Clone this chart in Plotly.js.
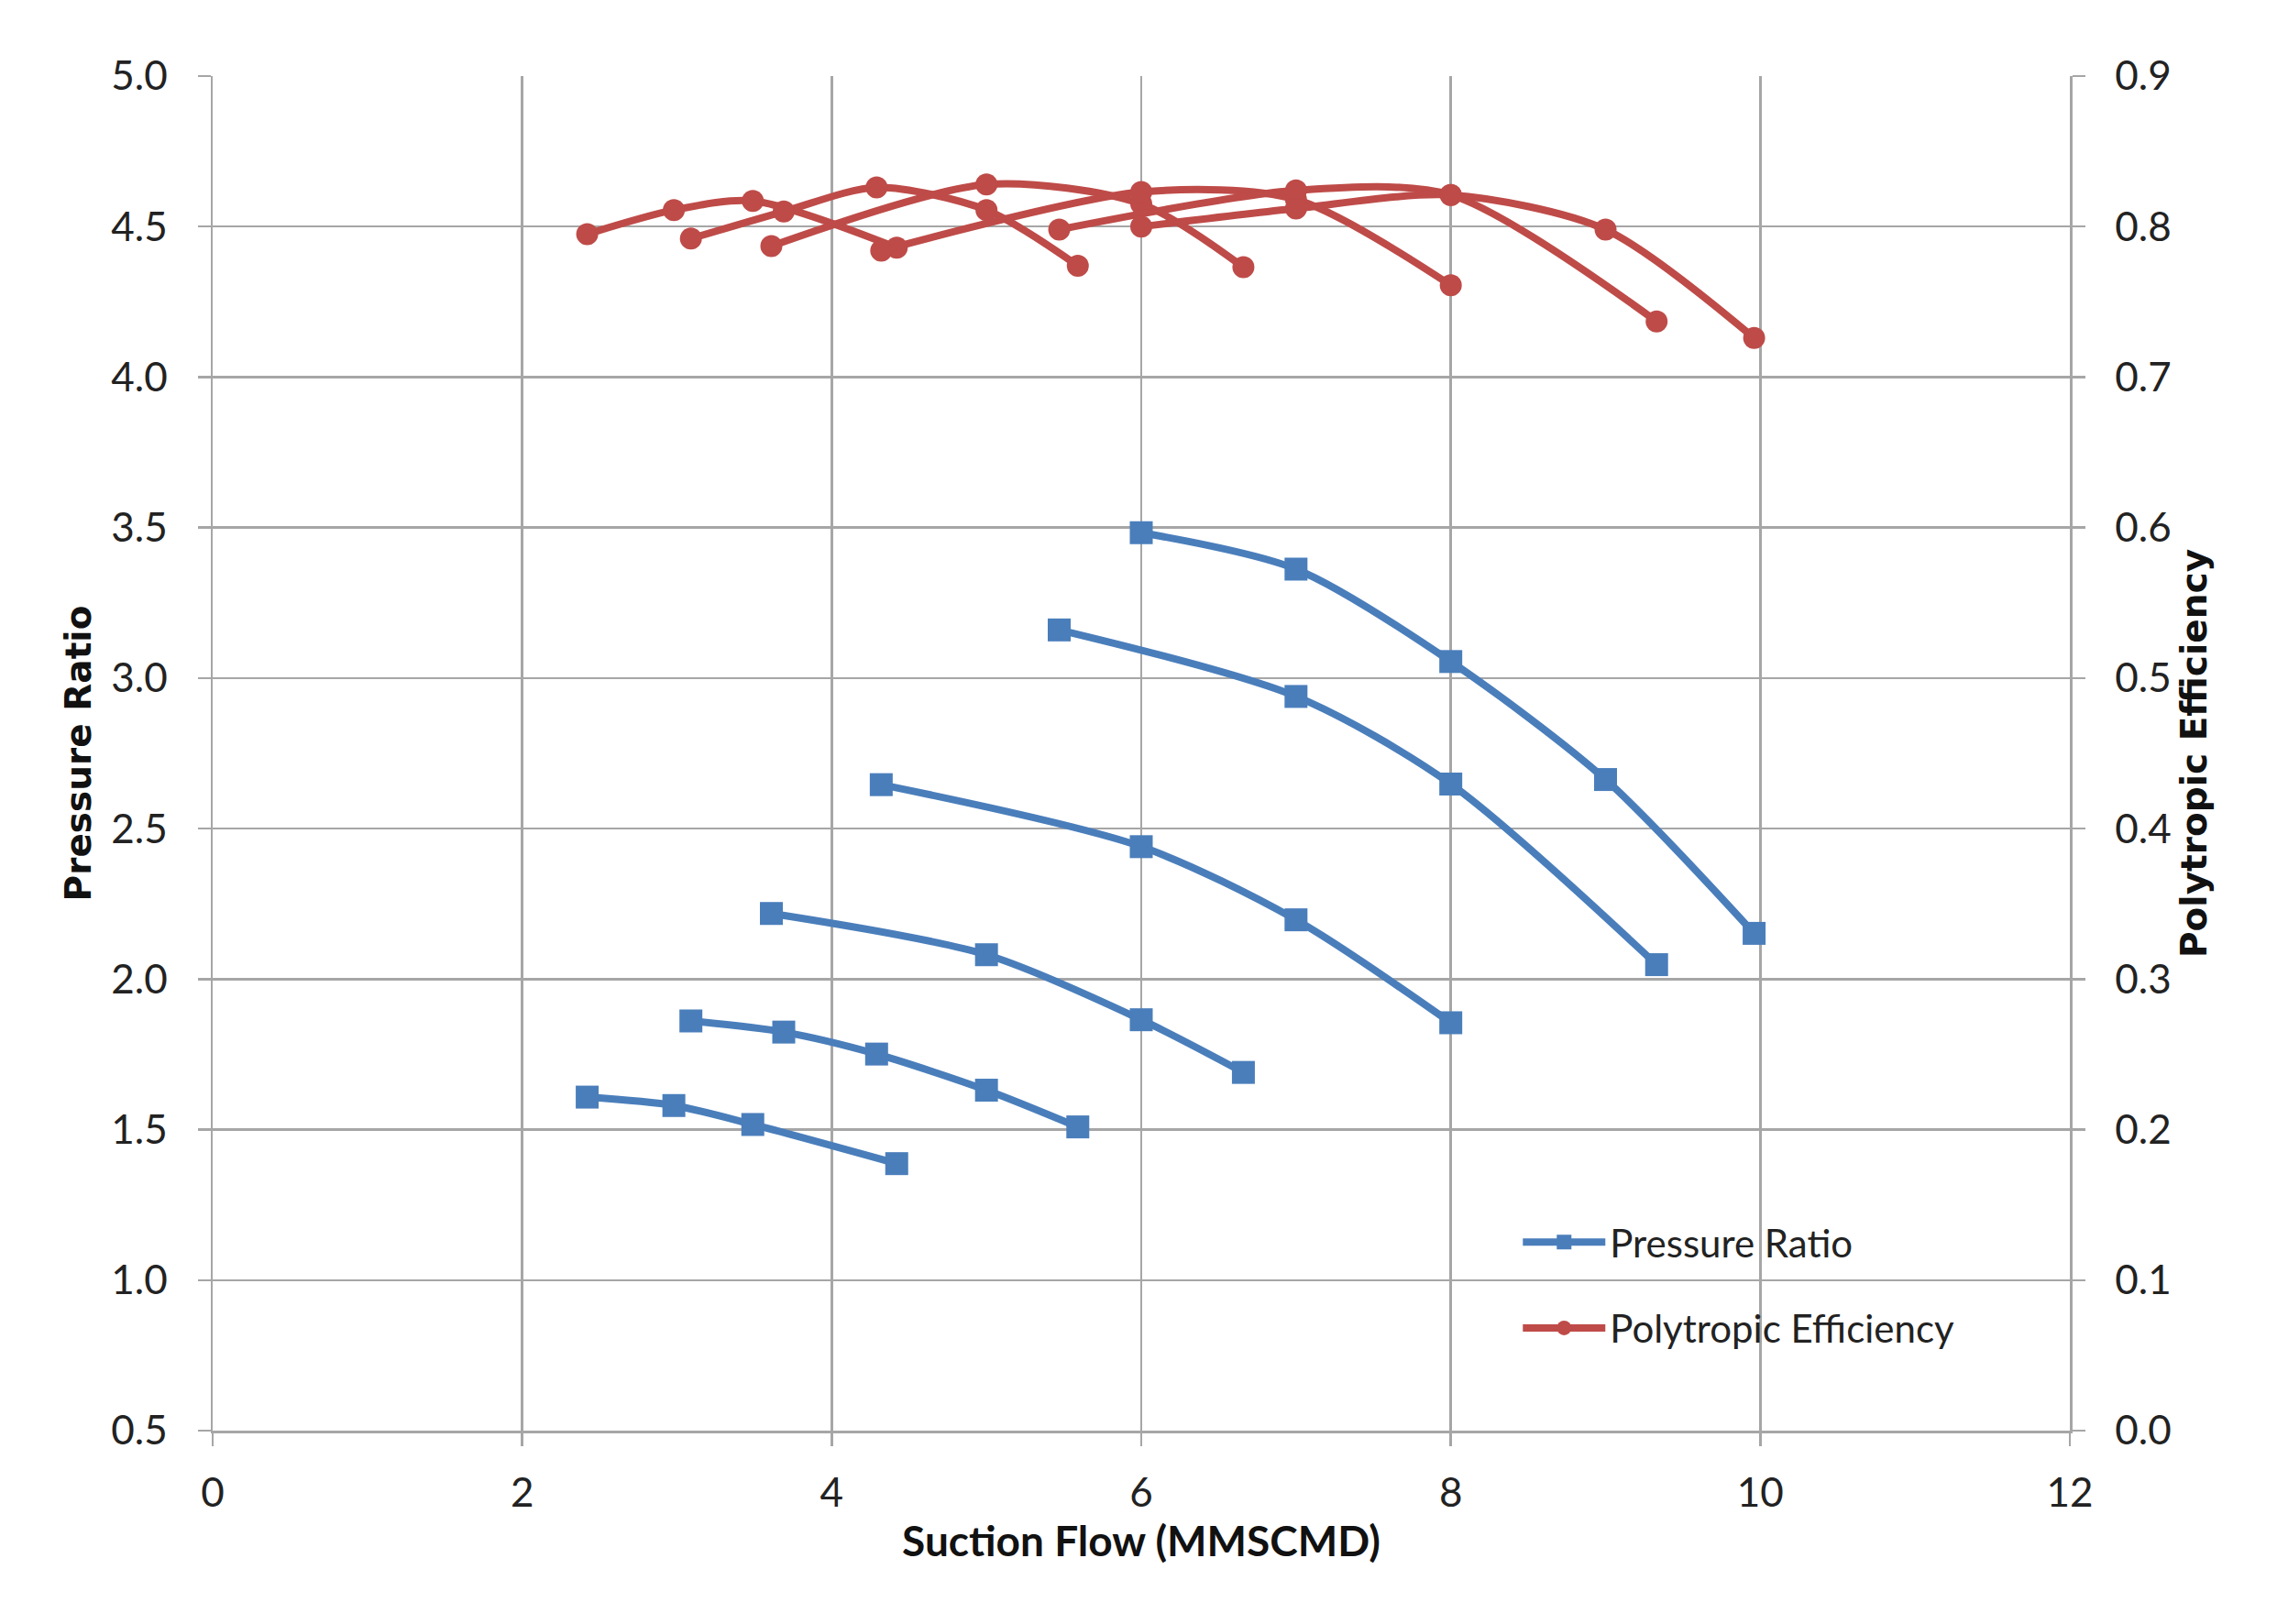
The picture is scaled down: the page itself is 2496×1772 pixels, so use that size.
<!DOCTYPE html>
<html>
<head>
<meta charset="utf-8">
<script src="https://cdn.plot.ly/plotly-3.0.1.min.js"></script>
<style>
  body { margin: 0; padding: 0; background: #fff; }
  #chart { width: 2496px; height: 1772px; }
</style>
</head>
<body>
<div id="chart"></div>
<script>
// suction flow (MMSCMD), pressure ratio and polytropic efficiency per speed line
const flow1 = [2.42, 2.98, 3.49, 4.42];
const ratio1 = [1.608, 1.580, 1.517, 1.387];
const eff1 = [0.795, 0.811, 0.817, 0.786];

const flow2 = [3.09, 3.69, 4.29, 5.0, 5.59];
const ratio2 = [1.861, 1.824, 1.751, 1.631, 1.509];
const eff2 = [0.792, 0.810, 0.826, 0.811, 0.774];

const flow3 = [3.61, 5.0, 6.0, 6.66];
const ratio3 = [2.218, 2.081, 1.865, 1.690];
const eff3 = [0.787, 0.828, 0.815, 0.773];

const flow4 = [4.32, 6.0, 7.0, 8.0];
const ratio4 = [2.646, 2.440, 2.197, 1.855];
const eff4 = [0.784, 0.823, 0.818, 0.761];

const flow5 = [5.47, 7.0, 8.0, 9.33];
const ratio5 = [3.160, 2.939, 2.648, 2.048];
const eff5 = [0.798, 0.824, 0.821, 0.737];

const flow6 = [6.0, 7.0, 8.0, 9.0, 9.96];
const ratio6 = [3.483, 3.362, 3.055, 2.663, 2.152];
const eff6 = [0.800, 0.812, 0.821, 0.798, 0.726];

const flows = [flow1, flow2, flow3, flow4, flow5, flow6];
const ratios = [ratio1, ratio2, ratio3, ratio4, ratio5, ratio6];
const effs = [eff1, eff2, eff3, eff4, eff5, eff6];

const blue = '#4A7EBB';
const red = '#BE4B48';
const gridGray = '#A6A6A6';

function makeRatioTrace(i) {
    return {
        x: flows[i],
        y: ratios[i],
        name: 'Pressure Ratio',
        legendgroup: 'ratio',
        showlegend: i === 0,
        type: 'scatter',
        mode: 'lines+markers',
        line: {color: blue, width: 8, shape: 'spline', smoothing: 0.8},
        marker: {symbol: 'square', size: 25, color: blue},
        yaxis: 'y'
    };
}

function makeEffTrace(i) {
    return {
        x: flows[i],
        y: effs[i],
        name: 'Polytropic Efficiency',
        legendgroup: 'eff',
        showlegend: i === 0,
        type: 'scatter',
        mode: 'lines+markers',
        line: {color: red, width: 8, shape: 'spline', smoothing: 0.8},
        marker: {symbol: 'circle', size: 24, color: red},
        yaxis: 'y2'
    };
}

var data = [];
for (var i = 0; i < flows.length; i++) {
    data.push(makeRatioTrace(i));
}
for (var i = 0; i < flows.length; i++) {
    data.push(makeEffTrace(i));
}

const tickFont = {family: 'Lato, sans-serif', size: 44, color: '#222'};

var layout = {
    width: 2496,
    height: 1772,
    margin: {l: 232, r: 238, t: 83, b: 211},
    paper_bgcolor: '#fff',
    plot_bgcolor: '#fff',
    showlegend: true,
    legend: {
        x: 0.703, y: 0.162,
        xanchor: 'left', yanchor: 'top',
        bgcolor: 'rgba(0,0,0,0)',
        font: {family: 'Lato, sans-serif', size: 42, color: '#222'},
        itemwidth: 90,
        tracegroupgap: 36,
        traceorder: 'grouped'
    },
    xaxis: {
        range: [0, 12],
        dtick: 2,
        tick0: 0,
        showgrid: true,
        gridcolor: gridGray,
        gridwidth: 2.5,
        showline: true,
        linecolor: gridGray,
        linewidth: 2.5,
        zeroline: false,
        ticks: 'outside',
        ticklen: 14,
        tickwidth: 2.5,
        tickcolor: gridGray,
        ticklabelstandoff: 14,
        tickfont: tickFont,
        title: {
            text: 'Suction Flow (MMSCMD)',
            font: {family: 'Lato, sans-serif', size: 46, color: '#111', weight: 'bold'},
            standoff: 14
        }
    },
    yaxis: {
        range: [0.5, 5.0],
        dtick: 0.5,
        tick0: 0.5,
        tickformat: '.1f',
        showgrid: true,
        gridcolor: gridGray,
        gridwidth: 2.5,
        showline: true,
        linecolor: gridGray,
        linewidth: 2.5,
        zeroline: false,
        ticks: 'outside',
        ticklen: 14,
        tickwidth: 2.5,
        tickcolor: gridGray,
        ticklabelstandoff: 24,
        tickfont: tickFont,
        title: {
            text: 'Pressure Ratio',
            font: {family: 'DejaVu Sans, sans-serif', size: 39, color: '#111', weight: 'bold'},
            standoff: 10
        }
    },
    yaxis2: {
        range: [0.0, 0.9],
        dtick: 0.1,
        tick0: 0,
        tickformat: '.1f',
        overlaying: 'y',
        side: 'right',
        showgrid: false,
        showline: true,
        linecolor: gridGray,
        linewidth: 2.5,
        zeroline: false,
        ticks: 'outside',
        ticklen: 14,
        tickwidth: 2.5,
        tickcolor: gridGray,
        ticklabelstandoff: 24,
        tickfont: tickFont,
        title: {
            text: 'Polytropic Efficiency',
            font: {family: 'DejaVu Sans, sans-serif', size: 39, color: '#111', weight: 'bold'},
            standoff: 12
        }
    }
};

Plotly.newPlot('chart', data, layout, {displayModeBar: false, staticPlot: true});
</script>
</body>
</html>
